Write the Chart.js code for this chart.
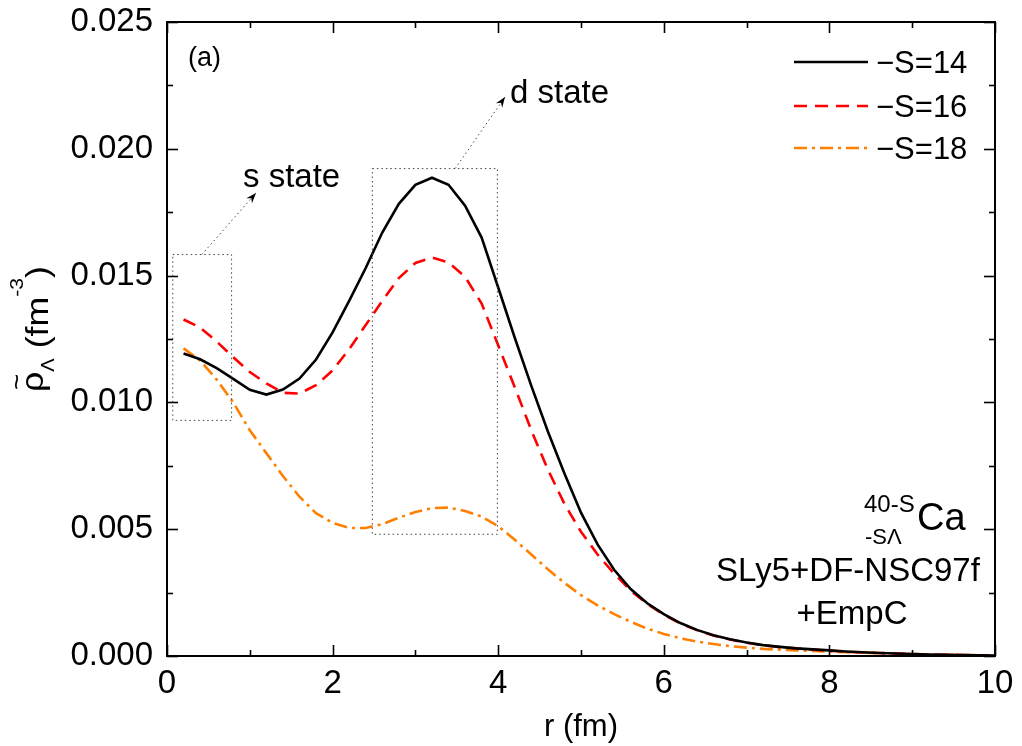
<!DOCTYPE html>
<html>
<head>
<meta charset="utf-8">
<script src="https://cdn.jsdelivr.net/npm/chart.js@4.4.0/dist/chart.umd.min.js"></script>
<style>
  html, body { margin: 0; padding: 0; background: #fff; }
  #wrap { width: 1022px; height: 746px; }
</style>
</head>
<body>
<div id="wrap"><canvas id="densityChart" width="1022" height="746"></canvas></div>
<script>
// ── Data: Lambda density vs r ─────────────────────────────────────
const rGrid = [
  0.2, 0.4, 0.6, 0.8, 1.0, 1.2, 1.4, 1.6, 1.8, 2.0,
  2.2, 2.4, 2.6, 2.8, 3.0, 3.2, 3.4, 3.6, 3.8, 4.0,
  4.2, 4.4, 4.6, 4.8, 5.0, 5.2, 5.4, 5.6, 5.8, 6.0,
  6.2, 6.4, 6.6, 6.8, 7.0, 7.2, 7.4, 7.6, 7.8, 8.0,
  8.2, 8.4, 8.6, 8.8, 9.0, 9.2, 9.4, 9.6, 9.8, 10.0
];
const rhoS14 = [
  0.01193, 0.01170, 0.01135, 0.01093, 0.01050, 0.01031, 0.01051, 0.01094, 0.01169, 0.01276,
  0.01400, 0.01530, 0.01670, 0.01783, 0.01858, 0.01886, 0.01858, 0.01776, 0.01650, 0.01453,
  0.01255, 0.01065, 0.00885, 0.00720, 0.00565, 0.00440, 0.00340, 0.00264, 0.00208, 0.00165,
  0.00130, 0.00103, 0.00082, 0.00066, 0.00053, 0.00043, 0.00036, 0.00030, 0.00026, 0.00022,
  0.00018, 0.00015, 0.00012, 0.00010, 0.00008, 0.00006, 0.00005, 0.00004, 0.00003, 0.00002
];
const rhoS16 = [
  0.01327, 0.01295, 0.01240, 0.01178, 0.01120, 0.01075, 0.01038, 0.01035, 0.01068, 0.01126,
  0.01210, 0.01305, 0.01400, 0.01490, 0.01550, 0.01571, 0.01552, 0.01495, 0.01390, 0.01225,
  0.01060, 0.00890, 0.00735, 0.00600, 0.00490, 0.00400, 0.00325, 0.00258, 0.00205, 0.00163,
  0.00128, 0.00102, 0.00081, 0.00065, 0.00052, 0.00042, 0.00035, 0.00030, 0.00025, 0.00021,
  0.00017, 0.00014, 0.00012, 0.00010, 0.00008, 0.00006, 0.00005, 0.00004, 0.00003, 0.00002
];
const rhoS18 = [
  0.01213, 0.01165, 0.01090, 0.01000, 0.00890, 0.00800, 0.00710, 0.00628, 0.00563, 0.00525,
  0.00505, 0.00505, 0.00520, 0.00545, 0.00568, 0.00583, 0.00585, 0.00572, 0.00550, 0.00512,
  0.00458, 0.00400, 0.00342, 0.00288, 0.00240, 0.00200, 0.00165, 0.00135, 0.00108, 0.00087,
  0.00070, 0.00057, 0.00047, 0.00039, 0.00033, 0.00028, 0.00025, 0.00022, 0.00020, 0.00017,
  0.00015, 0.00013, 0.00011, 0.00009, 0.00008, 0.00006, 0.00005, 0.00004, 0.00003, 0.00002
];
const seriesLabels = ['\u2212S=14', '\u2212S=16', '\u2212S=18'];

const FONT = '"Liberation Sans", Arial, sans-serif';
const font = (px) => `${px}px ${FONT}`;

const toPoints = (vals) => rGrid.map((r, i) => ({ x: r, y: vals[i] }));

// ── Frame, inward ticks, annotations, legend, y title ───────────
const decor = {
  id: 'decor',
  afterDraw(chart) {
    const { ctx, chartArea: a, scales: { x, y } } = chart;
    ctx.save();

    const seg = (x1, y1, x2, y2) => { ctx.beginPath(); ctx.moveTo(x1, y1); ctx.lineTo(x2, y2); ctx.stroke(); };

    // frame
    ctx.strokeStyle = '#000';
    ctx.lineWidth = 2;
    ctx.strokeRect(a.left, a.top, a.right - a.left, a.bottom - a.top);

    // ticks on all four sides, pointing in
    ctx.lineWidth = 1.6;
    for (let k = 0; k <= 10; k++) {
      const px = Math.round(x.getPixelForValue(k)) + 0.5;
      const len = k % 2 === 0 ? 11 : 6;
      seg(px, a.bottom, px, a.bottom - len);
      seg(px, a.top, px, a.top + len);
    }
    for (let k = 0; k <= 10; k++) {
      const py = Math.round(y.getPixelForValue(k * 0.0025)) + 0.5;
      const len = k % 2 === 0 ? 11 : 6;
      seg(a.left, py, a.left + len, py);
      seg(a.right, py, a.right - len, py);
    }

    // dotted boxes + arrows
    ctx.strokeStyle = '#444';
    ctx.lineWidth = 1;
    ctx.setLineDash([1.5, 3]);
    const box = (r0, r1, v0, v1) => {
      const x0 = x.getPixelForValue(r0), x1 = x.getPixelForValue(r1);
      const y0 = y.getPixelForValue(v1), y1 = y.getPixelForValue(v0);
      ctx.strokeRect(x0, y0, x1 - x0, y1 - y0);
    };
    box(0.07, 0.78, 0.00929, 0.01583);
    box(2.48, 3.99, 0.00480, 0.01922);

    const arrow = (x1, y1, x2, y2) => {
      ctx.setLineDash([1.5, 3]);
      seg(x1, y1, x2, y2);
      ctx.setLineDash([]);
      const ang = Math.atan2(y2 - y1, x2 - x1);
      ctx.fillStyle = '#000';
      ctx.beginPath();
      ctx.moveTo(x2, y2);
      ctx.lineTo(x2 - 11 * Math.cos(ang - 0.35), y2 - 11 * Math.sin(ang - 0.35));
      ctx.lineTo(x2 - 7 * Math.cos(ang), y2 - 7 * Math.sin(ang));
      ctx.lineTo(x2 - 11 * Math.cos(ang + 0.35), y2 - 11 * Math.sin(ang + 0.35));
      ctx.closePath();
      ctx.fill();
    };
    arrow(x.getPixelForValue(0.42), y.getPixelForValue(0.01583), 256, 193);
    arrow(x.getPixelForValue(3.48), y.getPixelForValue(0.01922), 505, 97);
    ctx.setLineDash([]);

    // text labels
    ctx.fillStyle = '#000';
    ctx.textBaseline = 'alphabetic';
    ctx.textAlign = 'left';
    ctx.font = font(33);
    ctx.fillText('s state', 243, 187);
    ctx.fillText('d state', 510, 103);
    ctx.font = font(27);
    ctx.fillText('(a)', 188, 66);

    // nucleus label + model
    ctx.font = font(38);
    ctx.fillText('Ca', 917, 530);
    ctx.font = font(24);
    ctx.fillText('40-S', 864, 512);
    ctx.font = font(22);
    ctx.fillText('-S\u039B', 865, 544);
    ctx.textAlign = 'center';
    ctx.font = font(33);
    ctx.fillText('SLy5+DF-NSC97f', 848, 581);
    ctx.fillText('+EmpC', 852, 624);

    // legend
    const rows = [62, 106, 148];
    chart.data.datasets.forEach((ds, i) => {
      ctx.strokeStyle = ds.borderColor;
      ctx.lineWidth = ds.borderWidth;
      ctx.setLineDash(ds.borderDash || []);
      seg(794, rows[i], 868, rows[i]);
      ctx.setLineDash([]);
      ctx.fillStyle = '#000';
      ctx.textAlign = 'left';
      ctx.textBaseline = 'middle';
      ctx.font = font(31);
      ctx.fillText(ds.label, 876, rows[i] + 2);
    });

    // y axis title: rho-tilde sub Lambda (fm^-3), rotated
    const parts = [
      { t: '\u03C1', f: 32, v: -5 },
      { t: '\u039B', f: 18, v: 6 },
      { t: ' (fm', f: 32, v: 0 },
      { t: '-3', f: 19, v: -25 },
      { t: ')', f: 32, v: 0 }
    ];
    ctx.textBaseline = 'alphabetic';
    ctx.textAlign = 'left';
    let total = 0;
    parts.forEach(p => { ctx.font = font(p.f); p.w = ctx.measureText(p.t).width; total += p.w; });
    const stretch = 126 / total;
    ctx.translate(48, 392);
    ctx.rotate(-Math.PI / 2);
    let u = 0;
    parts.forEach((p, i) => {
      ctx.save();
      ctx.translate(u, p.v);
      ctx.scale(stretch, 1);
      ctx.font = font(p.f);
      ctx.fillText(p.t, 0, 0);
      if (i === 0) {
        ctx.font = font(25);
        ctx.textAlign = 'center';
        ctx.fillText('~', p.w / 2, -18);
      }
      ctx.restore();
      u += p.w * stretch;
    });

    ctx.restore();
  }
};

new Chart(document.getElementById('densityChart'), {
  type: 'line',
  data: {
    datasets: [
      { label: seriesLabels[0], data: toPoints(rhoS14), borderColor: '#000000', borderWidth: 2.6, borderDash: [] },
      { label: seriesLabels[1], data: toPoints(rhoS16), borderColor: '#ff0000', borderWidth: 2.6, borderDash: [13, 8] },
      { label: seriesLabels[2], data: toPoints(rhoS18), borderColor: '#ff8000', borderWidth: 2.6, borderDash: [13, 5, 3, 5] }
    ]
  },
  options: {
    responsive: false,
    animation: false,
    devicePixelRatio: 1,
    layout: { padding: { top: 22, right: 27, left: 0, bottom: 0 } },
    elements: { point: { radius: 0 }, line: { tension: 0, fill: false } },
    plugins: { legend: { display: false }, tooltip: { enabled: false } },
    scales: {
      x: {
        type: 'linear',
        min: 0, max: 10,
        grid: { display: false, drawTicks: false },
        border: { display: false },
        ticks: { stepSize: 2, color: '#000', font: { family: FONT, size: 33 }, padding: 8, maxRotation: 0 },
        title: { display: true, text: 'r (fm)', color: '#000', font: { family: FONT, size: 31 }, padding: { top: 0, bottom: 0 } },
        afterFit: (s) => { s.height = 90; }
      },
      y: {
        min: 0, max: 0.025,
        grid: { display: false, drawTicks: false },
        border: { display: false },
        ticks: { stepSize: 0.005, color: '#000', font: { family: FONT, size: 33, lineHeight: 0.4 }, padding: 14, callback: v => v.toFixed(3) },
        afterFit: (s) => { s.width = 167; }
      }
    }
  },
  plugins: [decor]
});
</script>
</body>
</html>
